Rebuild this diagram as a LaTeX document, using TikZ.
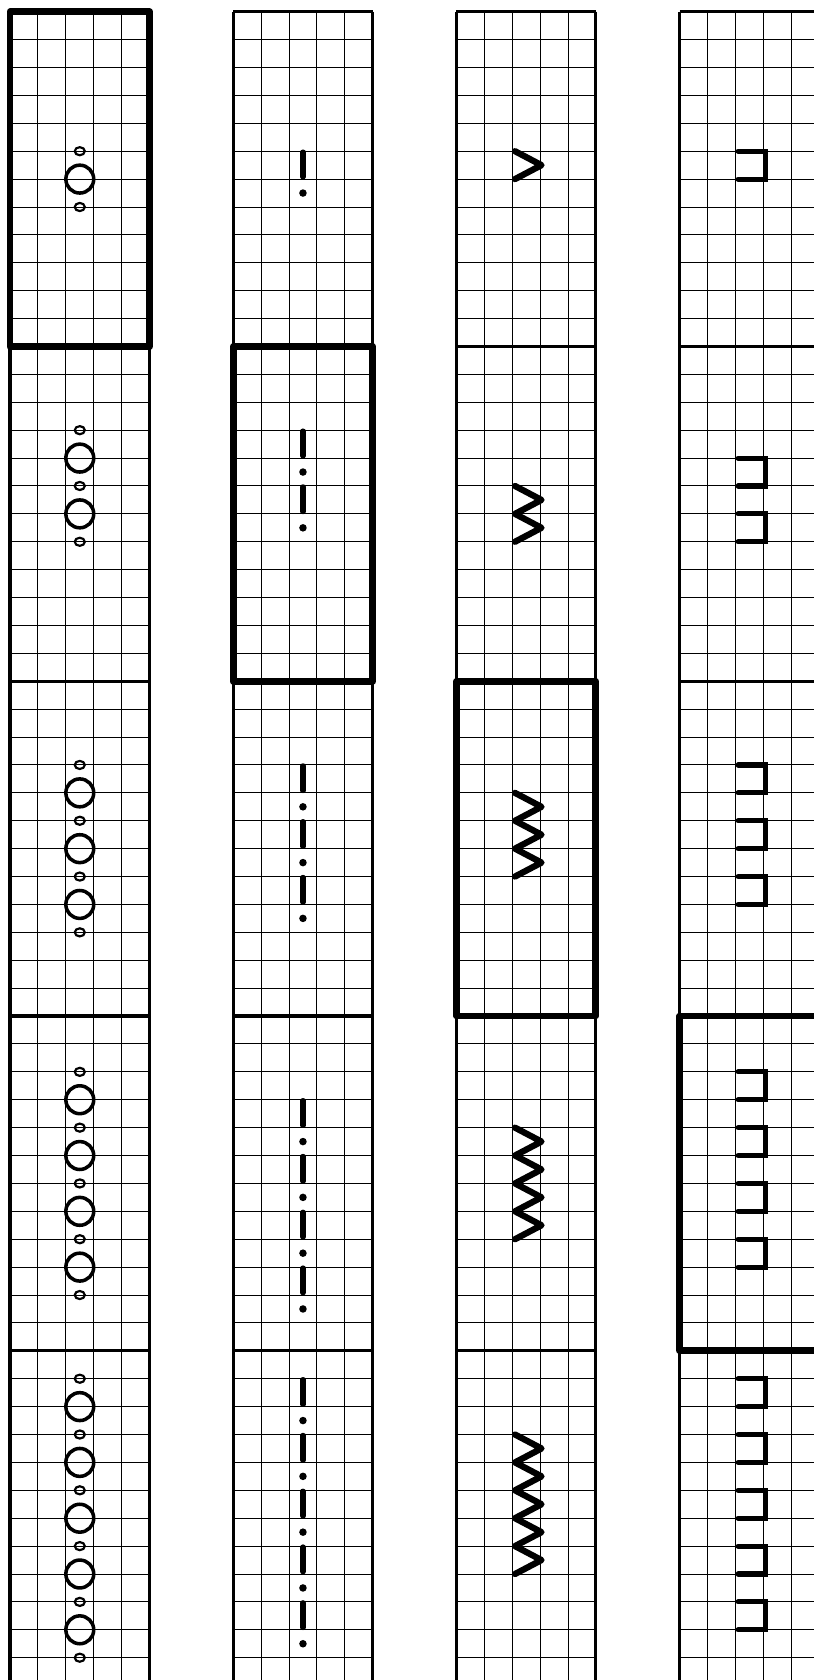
\documentclass[tikz,border=0pt]{standalone}

\begin{document}
\begin{tikzpicture}[
    x=0.5cm, y=0.5cm,
    gridline/.style={line width=0.5pt},
    strip/.style={line width=1.6pt},
    frame/.style={line width=3.5pt, line join=round},
    ring/.style={line width=1.8pt},
    smallring/.style={line width=1.1pt},
    bar/.style={line width=2.6pt, line cap=round},
    dotmark/.style={fill=black},
    zigzag/.style={line width=3.2pt, line cap=round, line join=round},
    hook/.style={line width=2.6pt, line cap=round, line join=miter},
  ]
    % Page
    \useasboundingbox (-0.36,0.42) rectangle (28.81,-59.8);
    \clip (-0.36,0.42) rectangle (28.81,-59.8);

    % Strips: 4 columns, 5 sections of 5 x 12 cells
    \foreach \col in {0,...,3} {
      \begin{scope}[xshift=\col*4cm]
        \draw[gridline, step=0.5cm] (0,-60) grid (5,0);
        \foreach \sec in {0,...,5}
          \draw[strip] (0,{-12*\sec}) -- (5,{-12*\sec});
        \draw[strip] (0,0) -- (0,-60) (5,0) -- (5,-60);
      \end{scope}
    }

    % Highlighted sections
    \foreach \col in {0,...,3}
      \draw[frame] ({8*\col},{-12*\col}) rectangle ({8*\col+5},{-12*\col-12});

    % Column 1: rings
    \foreach \n/\s in {1/5, 2/3, 3/3, 4/2, 5/1} {
      \foreach \k in {1,...,\n}
        \draw[ring] (2.5,{-12*(\n-1)-\s-2*\k+1}) circle (0.5);
      \foreach \k in {0,...,\n}
        \draw[smallring] (2.5,{-12*(\n-1)-\s-2*\k}) ellipse (0.18 and 0.145);
    }

    % Column 2: bars and dots
    \foreach \n/\s in {1/5, 2/3, 3/3, 4/3, 5/1} {
      \foreach \k in {0,...,\numexpr\n-1\relax} {
        \draw[bar] (10.5,{-12*(\n-1)-\s-2*\k-0.03}) -- (10.5,{-12*(\n-1)-\s-2*\k-0.92});
        \fill[dotmark] (10.5,{-12*(\n-1)-\s-2*\k-1.5}) circle (0.135);
      }
    }

    % Column 3: zigzags
    \foreach \n/\s in {1/5, 2/5, 3/4, 4/4, 5/3}
      \draw[zigzag] (18.1,{-12*(\n-1)-\s})
        \foreach \k in {1,...,\n} {
          -- (19.05,{-12*(\n-1)-\s-\k+0.5}) -- (18.1,{-12*(\n-1)-\s-\k})
        };

    % Column 4: hooks
    \foreach \n/\s in {1/5, 2/4, 3/3, 4/2, 5/1} {
      \foreach \k in {0,...,\numexpr\n-1\relax}
        \draw[hook] (26.1,{-12*(\n-1)-\s-2*\k}) -- (27.07,{-12*(\n-1)-\s-2*\k})
          -- (27.07,{-12*(\n-1)-\s-2*\k-1}) -- (26.1,{-12*(\n-1)-\s-2*\k-1});
    }
\end{tikzpicture}
\end{document}
